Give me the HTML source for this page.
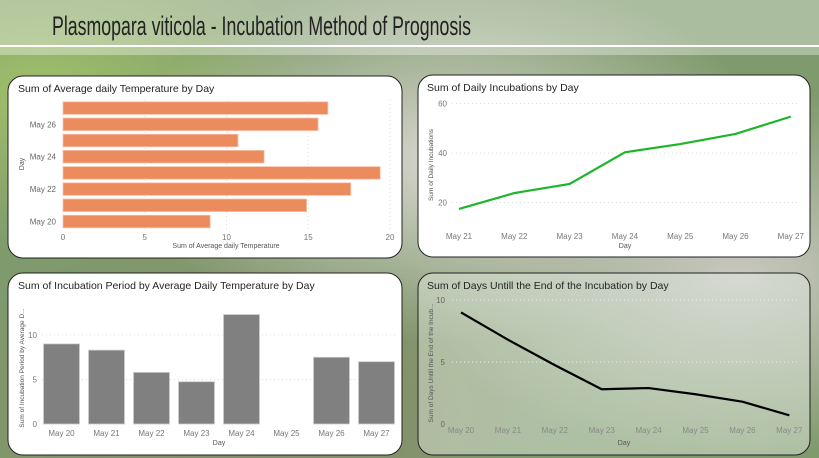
<!DOCTYPE html>
<html><head><meta charset="utf-8"><style>
html,body{margin:0;padding:0;width:819px;height:458px;overflow:hidden;font-family:"Liberation Sans",sans-serif;}
svg{display:block}
text{font-family:"Liberation Sans",sans-serif}
</style></head><body>
<svg id="root" width="819" height="458" viewBox="0 0 819 458" xmlns="http://www.w3.org/2000/svg">
<defs>
<radialGradient id="g1" cx="0.05" cy="0.2" r="0.35"><stop offset="0" stop-color="#9fbf6a"/><stop offset="1" stop-color="#9fbf6a" stop-opacity="0"/></radialGradient>
<radialGradient id="g2" cx="0.55" cy="0.35" r="0.4"><stop offset="0" stop-color="#d8d6d0"/><stop offset="1" stop-color="#d8d6d0" stop-opacity="0"/></radialGradient>
<radialGradient id="g3" cx="0.9" cy="0.6" r="0.4"><stop offset="0" stop-color="#c9c7c0"/><stop offset="1" stop-color="#c9c7c0" stop-opacity="0"/></radialGradient>
<radialGradient id="g4" cx="0.3" cy="0.9" r="0.4"><stop offset="0" stop-color="#8a8a6a"/><stop offset="1" stop-color="#8a8a6a" stop-opacity="0"/></radialGradient>
</defs>
<g>
<rect width="819" height="458" fill="#7f9a6c"/>
<rect width="819" height="458" fill="url(#g1)"/>
<rect width="819" height="458" fill="url(#g4)"/>
<rect width="819" height="458" fill="url(#g2)"/>
<rect width="819" height="458" fill="url(#g3)"/>
</g>
<g>
<rect x="0" y="0" width="819" height="55" fill="#ffffff" opacity="0.35"/>
<line x1="0" y1="46" x2="819" y2="46" stroke="#ffffff" stroke-width="2"/>
<text x="52" y="35" font-size="27" fill="#222" textLength="419" lengthAdjust="spacingAndGlyphs">Plasmopara viticola - Incubation Method of Prognosis</text>
</g>

<g>
<rect x="8" y="76" width="394" height="182" rx="15" fill="#fff" stroke="#222" stroke-width="1"/>
<text x="18" y="92" font-size="10.5" fill="#252423">Sum of Average daily Temperature by Day</text>
<g id="c1"></g>
</g>
<g>
<rect x="418" y="75" width="392" height="182" rx="15" fill="#fff" stroke="#222" stroke-width="1"/>
<text x="427" y="91" font-size="10.5" fill="#252423">Sum of Daily Incubations by Day</text>
<g id="c2"></g>
</g>
<g>
<rect x="8" y="273" width="394" height="182" rx="15" fill="#fff" stroke="#222" stroke-width="1"/>
<text x="18" y="289" font-size="10.5" fill="#252423">Sum of Incubation Period by Average Daily Temperature by Day</text>
<g id="c3"></g>
</g>
<g>
<rect x="418" y="273" width="392" height="182" rx="15" fill="#e6f0e6" fill-opacity="0.45" stroke="#222" stroke-width="1"/>
<text x="427" y="289" font-size="10.5" fill="#252423">Sum of Days Untill the End of the Incubation by Day</text>
<g id="c4"></g>
</g>
</svg>
<script>
const tempDays = ["May 20","May 21","May 22","May 23","May 24","May 25","May 26","May 27"];
const tempValues = [9.0, 14.9, 17.6, 19.4, 12.3, 10.7, 15.6, 16.2];
const tempTicks = [0,5,10,15,20];

const incDays = ["May 21","May 22","May 23","May 24","May 25","May 26","May 27"];
const incValues = [17.4, 23.8, 27.5, 40.3, 43.6, 47.7, 54.7];
const incTicks = [20,40,60];

const perDays = ["May 20","May 21","May 22","May 23","May 24","May 25","May 26","May 27"];
const perValues = [9.0, 8.3, 5.8, 4.75, 12.3, 0, 7.5, 7.0];
const perTicks = [0,5,10];

const leftDays = ["May 20","May 21","May 22","May 23","May 24","May 25","May 26","May 27"];
const leftValues = [9.0, 6.8, 4.75, 2.8, 2.9, 2.4, 1.8, 0.7];
const leftTicks = [0,5,10];

const NS="http://www.w3.org/2000/svg";
function mk(parent,tag,attrs,txt){const e=document.createElementNS(NS,tag);for(const k in attrs)e.setAttribute(k,attrs[k]);if(txt!==undefined)e.textContent=txt;parent.appendChild(e);return e;}

// Chart 1: horizontal bars
(function(){
 const g=document.getElementById('c1');
 const x=v=>63+v*16.35;
 const yC=i=>221.5-i*16.2;
 tempTicks.forEach(t=>{
  if(t>0){const l=mk(g,'line',{x1:x(t),x2:x(t),y1:100,y2:230,stroke:'#ddd','stroke-dasharray':'1,3'});
  }
  const tx=mk(g,'text',{x:x(t),y:240,'font-size':8,fill:'#777','text-anchor':'middle'},t);
  
 });
 tempValues.forEach((v,i)=>{
  const r=mk(g,'rect',{x:x(0),y:yC(i)-6.3,width:x(v)-x(0),height:12.6,fill:'#ec8b5e',stroke:'#f7c3aa','stroke-width':0.8});
  
  
  if(i%2===0){const t=mk(g,'text',{x:56,y:yC(i)+3,'font-size':8,fill:'#666','text-anchor':'end'},tempDays[i]);
  }
 });
 const at=mk(g,'text',{x:226,y:248,'font-size':7,fill:'#555','text-anchor':'middle'},'Sum of Average daily Temperature');
 
 const yt=mk(g,'text',{x:24,y:164,'font-size':7,fill:'#555','text-anchor':'middle',transform:'rotate(-90 24 164)'},'Day');
 
})();

// Chart 2: line
(function(){
 const g=document.getElementById('c2');
 const y=v=>252-v*2.475;
 const x=i=>459+i*55.3;
 incTicks.forEach(t=>{
  const l=mk(g,'line',{x1:452,x2:797,y1:y(t),y2:y(t),stroke:'#ddd','stroke-dasharray':'1,3'});
  
  const tx=mk(g,'text',{x:447,y:y(t)+3,'font-size':8,fill:'#777','text-anchor':'end'},t);
  
 });
 incDays.forEach((d,i)=>{const t=mk(g,'text',{x:x(i),y:239,'font-size':8,fill:'#777','text-anchor':'middle'},d);
  });
 const p=mk(g,'polyline',{points:incValues.map((v,i)=>x(i)+','+y(v)).join(' '),fill:'none',stroke:'#1db52c','stroke-width':2.2});
 
 const at=mk(g,'text',{x:625,y:248,'font-size':7,fill:'#555','text-anchor':'middle'},'Day');
 
 const yt=mk(g,'text',{x:433,y:165,'font-size':6.5,fill:'#555','text-anchor':'middle',transform:'rotate(-90 433 165)'},'Sum of Daily Incubations');
 
})();

// Chart 3: columns
(function(){
 const g=document.getElementById('c3');
 const y=v=>424-v*8.9;
 const xc=i=>61.5+i*45;
 perTicks.forEach(t=>{
  if(t>0){const l=mk(g,'line',{x1:42,x2:396,y1:y(t),y2:y(t),stroke:'#ddd','stroke-dasharray':'1,3'});
  }
  const tx=mk(g,'text',{x:37,y:y(t)+3,'font-size':8,fill:'#777','text-anchor':'end'},t);
  
 });
 perValues.forEach((v,i)=>{
  if(v>0){const r=mk(g,'rect',{x:xc(i)-18,y:y(v),width:36,height:y(0)-y(v),fill:'#808080',stroke:'#ccc','stroke-width':0.8});
  }
  const t=mk(g,'text',{x:xc(i),y:436,'font-size':8,fill:'#777','text-anchor':'middle'},perDays[i]);
  
 });
 const at=mk(g,'text',{x:219,y:445,'font-size':7,fill:'#555','text-anchor':'middle'},'Day');
 
 const yt=mk(g,'text',{x:24,y:368,'font-size':6.5,fill:'#555','text-anchor':'middle',transform:'rotate(-90 24 368)'},'Sum of Incubation Period by Average D...');
 
})();

// Chart 4: line
(function(){
 const g=document.getElementById('c4');
 const y=v=>424-v*12.4;
 const x=i=>461+i*46.9;
 leftTicks.forEach(t=>{
  if(t>0){const l=mk(g,'line',{x1:452,x2:797,y1:y(t),y2:y(t),stroke:'#eee','stroke-dasharray':'1,3'});
  }
  const tx=mk(g,'text',{x:445,y:y(t)+3,'font-size':8,fill:'#666','text-anchor':'end'},t);
  
 });
 leftDays.forEach((d,i)=>{const t=mk(g,'text',{x:x(i),y:433,'font-size':8,fill:'#888','text-anchor':'middle'},d);
  });
 const p=mk(g,'polyline',{points:leftValues.map((v,i)=>x(i)+','+y(v)).join(' '),fill:'none',stroke:'#000','stroke-width':2.2});
 
 const at=mk(g,'text',{x:624,y:445,'font-size':7,fill:'#555','text-anchor':'middle'},'Day');
 
 const yt=mk(g,'text',{x:433,y:363,'font-size':6.5,fill:'#555','text-anchor':'middle',transform:'rotate(-90 433 363)'},'Sum of Days Untill the End of the Incub...');
 
})();
</script>
</body></html>
